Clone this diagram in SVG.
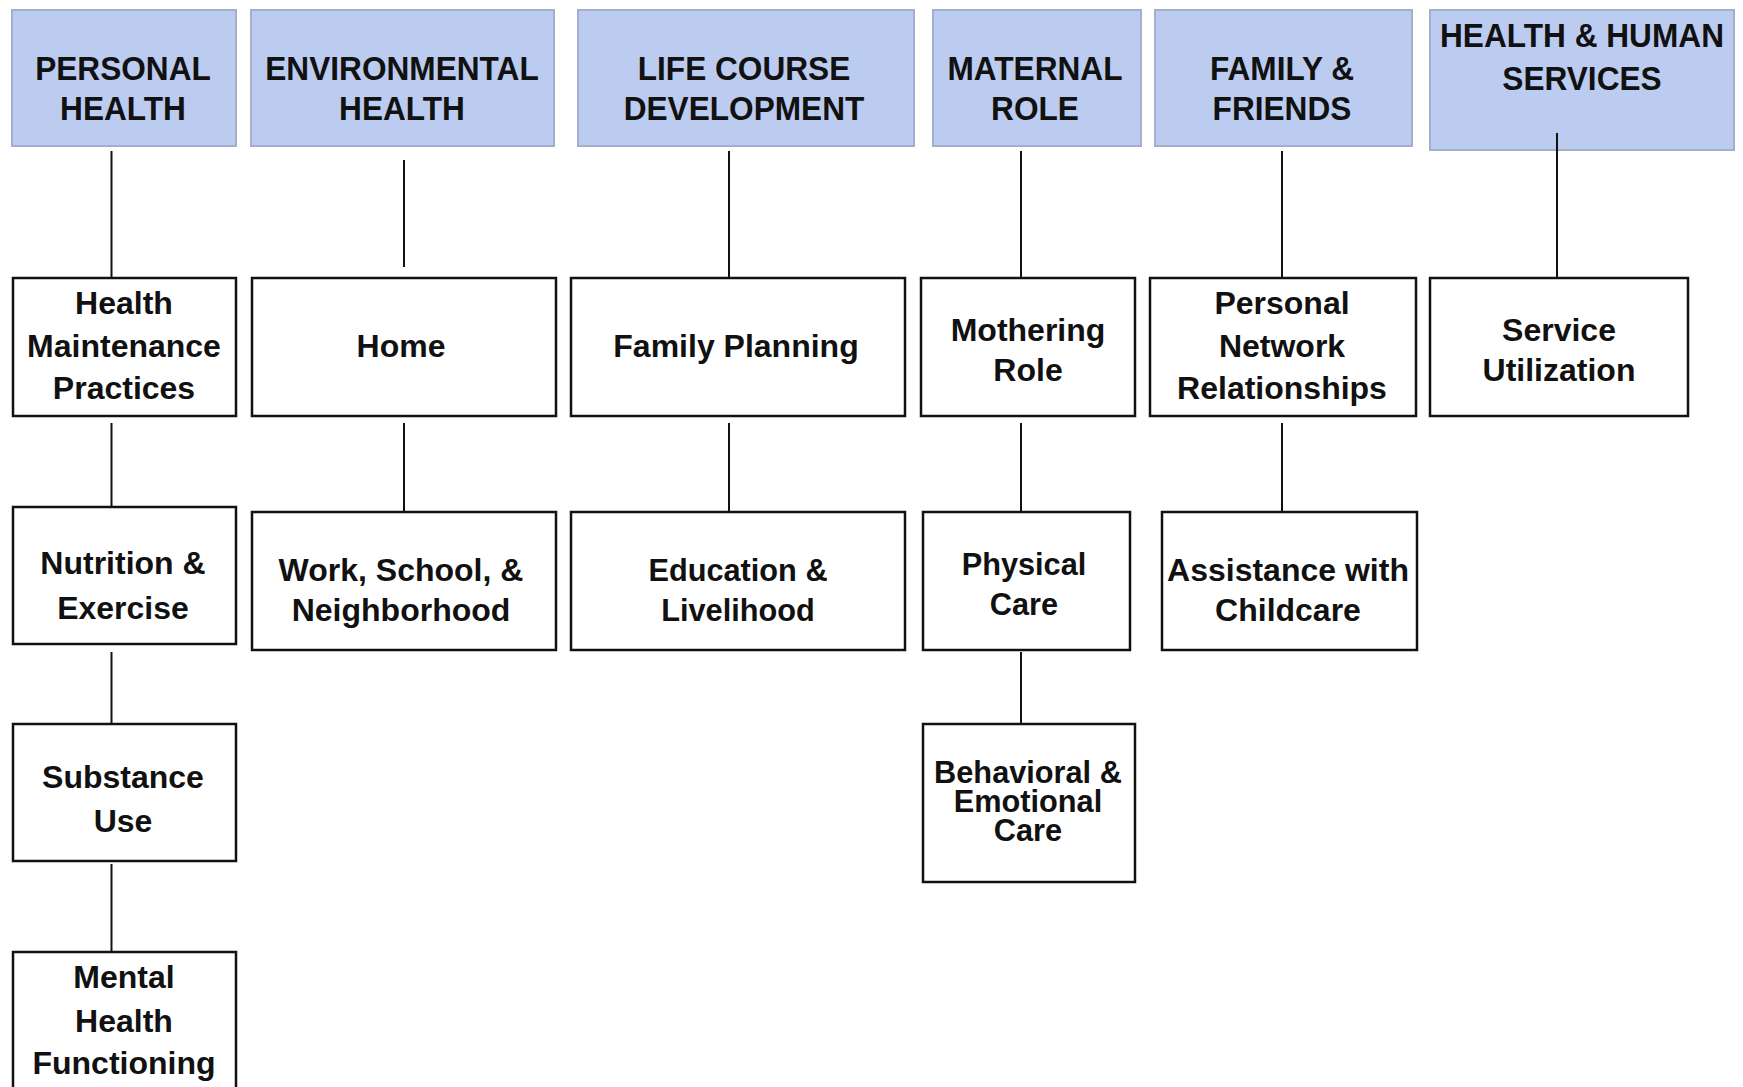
<svg xmlns="http://www.w3.org/2000/svg" width="1743" height="1087" viewBox="0 0 1743 1087">
  <style>
    .hdr rect { fill: #BCCCF0; stroke: #A3AFCD; stroke-width: 2; }
    .box rect { fill: #FFFFFF; stroke: #111111; stroke-width: 2.5; }
    text { font-family: "Liberation Sans", Arial, sans-serif; font-weight: bold; fill: #111111; text-anchor: middle; }
    .hdr text { font-size: 34px; transform-box: fill-box; transform-origin: center; transform: scaleX(0.93); }
    .box text { font-size: 32px; }
    .box text.tight { transform-box: fill-box; transform-origin: center; transform: scaleX(0.96); }
    .links line { stroke: #111111; stroke-width: 2; }
  </style>
  <rect width="1743" height="1087" fill="#FFFFFF"/>

  <!-- category headers -->
  <g id="personal-health" class="hdr">
    <rect x="12" y="10" width="224" height="136"/>
    <text x="123" y="80">PERSONAL</text>
    <text x="123" y="120">HEALTH</text>
  </g>
  <g id="environmental-health" class="hdr">
    <rect x="251" y="10" width="303" height="136"/>
    <text x="402" y="80">ENVIRONMENTAL</text>
    <text x="402" y="120">HEALTH</text>
  </g>
  <g id="life-course-development" class="hdr">
    <rect x="578" y="10" width="336" height="136"/>
    <text x="744" y="80">LIFE COURSE</text>
    <text x="744" y="120">DEVELOPMENT</text>
  </g>
  <g id="maternal-role" class="hdr">
    <rect x="933" y="10" width="208" height="136"/>
    <text x="1035" y="80">MATERNAL</text>
    <text x="1035" y="120">ROLE</text>
  </g>
  <g id="family-friends" class="hdr">
    <rect x="1155" y="10" width="257" height="136"/>
    <text x="1282" y="80">FAMILY &amp;</text>
    <text x="1282" y="120">FRIENDS</text>
  </g>
  <g id="health-human-services" class="hdr">
    <rect x="1430" y="10" width="304" height="140"/>
    <text x="1582" y="47">HEALTH &amp; HUMAN</text>
    <text x="1582" y="90">SERVICES</text>
  </g>

  <!-- connectors -->
  <g id="connectors" class="links">
    <line x1="111.5" y1="151" x2="111.5" y2="278"/>
    <line x1="111.5" y1="423" x2="111.5" y2="507"/>
    <line x1="111.5" y1="652" x2="111.5" y2="724"/>
    <line x1="111.5" y1="864" x2="111.5" y2="952"/>
    <line x1="404" y1="160" x2="404" y2="267"/>
    <line x1="404" y1="423" x2="404" y2="512"/>
    <line x1="729" y1="151" x2="729" y2="278"/>
    <line x1="729" y1="423" x2="729" y2="512"/>
    <line x1="1021" y1="151" x2="1021" y2="278"/>
    <line x1="1021" y1="423" x2="1021" y2="512"/>
    <line x1="1021" y1="652" x2="1021" y2="724"/>
    <line x1="1282" y1="151" x2="1282" y2="278"/>
    <line x1="1282" y1="423" x2="1282" y2="512"/>
    <line x1="1557" y1="133" x2="1557" y2="278"/>
  </g>

  <!-- first-level topics -->
  <g id="health-maintenance" class="box">
    <rect x="13" y="278" width="223" height="138"/>
    <text x="124" y="314">Health</text>
    <text x="124" y="357">Maintenance</text>
    <text x="124" y="399">Practices</text>
  </g>
  <g id="home" class="box">
    <rect x="252" y="278" width="304" height="138"/>
    <text x="401" y="357">Home</text>
  </g>
  <g id="family-planning" class="box">
    <rect x="571" y="278" width="334" height="138"/>
    <text x="736" y="357">Family Planning</text>
  </g>
  <g id="mothering-role" class="box">
    <rect x="921" y="278" width="214" height="138"/>
    <text x="1028" y="341">Mothering</text>
    <text x="1028" y="381">Role</text>
  </g>
  <g id="personal-network" class="box">
    <rect x="1150" y="278" width="266" height="138"/>
    <text x="1282" y="314">Personal</text>
    <text x="1282" y="357">Network</text>
    <text x="1282" y="399">Relationships</text>
  </g>
  <g id="service-utilization" class="box">
    <rect x="1430" y="278" width="258" height="138"/>
    <text x="1559" y="341">Service</text>
    <text x="1559" y="381">Utilization</text>
  </g>

  <!-- second-level topics -->
  <g id="nutrition-exercise" class="box">
    <rect x="13" y="507" width="223" height="137"/>
    <text x="123" y="574">Nutrition &amp;</text>
    <text x="123" y="619">Exercise</text>
  </g>
  <g id="work-school-neighborhood" class="box">
    <rect x="252" y="512" width="304" height="138"/>
    <text x="401" y="581">Work, School, &amp;</text>
    <text x="401" y="621">Neighborhood</text>
  </g>
  <g id="education-livelihood" class="box">
    <rect x="571" y="512" width="334" height="138"/>
    <text class="tight" x="738" y="581">Education &amp;</text>
    <text class="tight" x="738" y="621">Livelihood</text>
  </g>
  <g id="physical-care" class="box">
    <rect x="923" y="512" width="207" height="138"/>
    <text class="tight" x="1024" y="575">Physical</text>
    <text class="tight" x="1024" y="615">Care</text>
  </g>
  <g id="assistance-childcare" class="box">
    <rect x="1162" y="512" width="255" height="138"/>
    <text x="1288" y="581">Assistance with</text>
    <text x="1288" y="621">Childcare</text>
  </g>

  <!-- third-level topics -->
  <g id="substance-use" class="box">
    <rect x="13" y="724" width="223" height="137"/>
    <text x="123" y="788">Substance</text>
    <text x="123" y="832">Use</text>
  </g>
  <g id="behavioral-emotional-care" class="box">
    <rect x="923" y="724" width="212" height="158"/>
    <text class="tight" x="1028" y="783">Behavioral &amp;</text>
    <text class="tight" x="1028" y="812">Emotional</text>
    <text class="tight" x="1028" y="841">Care</text>
  </g>

  <!-- fourth-level topic -->
  <g id="mental-health" class="box">
    <rect x="13" y="952" width="223" height="150"/>
    <text x="124" y="988">Mental</text>
    <text x="124" y="1032">Health</text>
    <text x="124" y="1074">Functioning</text>
  </g>
</svg>
